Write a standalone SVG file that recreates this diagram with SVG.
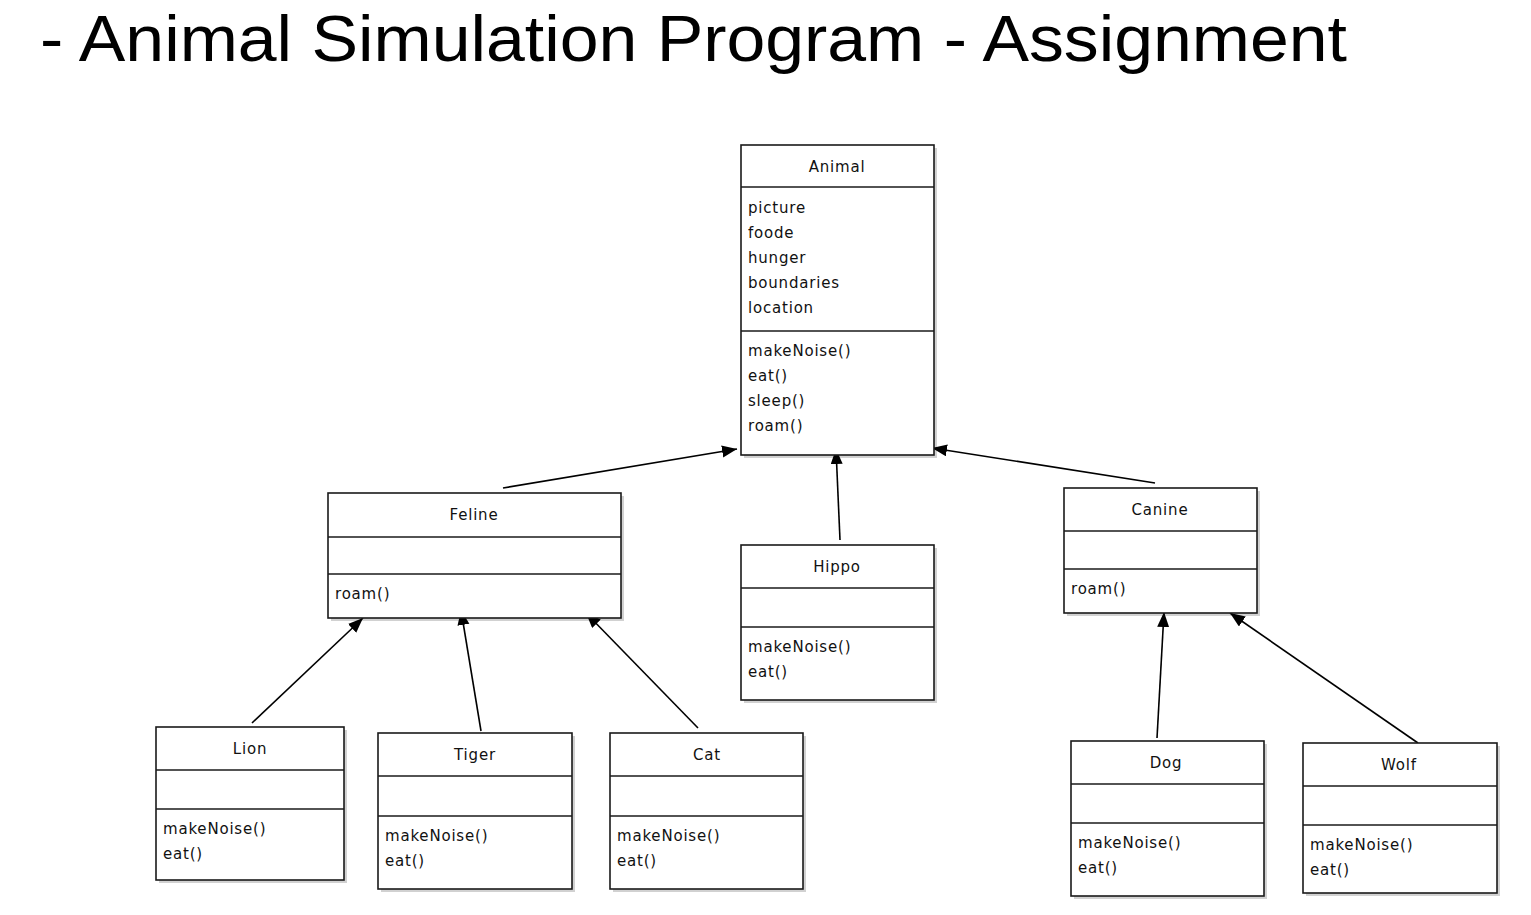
<svg xmlns="http://www.w3.org/2000/svg" width="1531" height="915" viewBox="0 0 1531 915">
<style>
.box{fill:#fff;stroke:#1a1a1a;stroke-width:1.6}
.sh{fill:#000;opacity:0.18}
.div{stroke:#1a1a1a;stroke-width:1.6}
.t{font-family:"DejaVu Sans",Verdana,sans-serif;font-size:15px;letter-spacing:0.8px;fill:#111}
.c{text-anchor:middle}
.con{stroke:#000;stroke-width:1.6;fill:none;marker-end:url(#ah)}
.title{font-family:"Liberation Sans",Arial,sans-serif;font-size:64px;fill:#000}
</style>
<defs>
<marker id="ah" markerUnits="userSpaceOnUse" markerWidth="17" markerHeight="13" refX="15" refY="6" orient="auto">
<path d="M0,0 L15,6 L0,12 z" fill="#000"/>
</marker>
</defs>
<rect width="1531" height="915" fill="#fff"/>
<text class="title" x="40" y="61" textLength="1307" lengthAdjust="spacingAndGlyphs">- Animal Simulation Program - Assignment</text>

<g id="connectors">
<line class="con" x1="503" y1="488" x2="737" y2="449"/>
<line class="con" x1="840" y1="540" x2="836" y2="449"/>
<line class="con" x1="1155" y1="483" x2="932" y2="448"/>
<line class="con" x1="252" y1="723" x2="363" y2="618"/>
<line class="con" x1="481" y1="731" x2="461" y2="610"/>
<line class="con" x1="698" y1="728" x2="586" y2="613"/>
<line class="con" x1="1157" y1="738" x2="1164" y2="612"/>
<line class="con" x1="1418" y1="743" x2="1230" y2="613"/>
</g>

<g id="animal">
<rect class="sh" x="744" y="148" width="193" height="310"/>
<rect class="box" x="741" y="145" width="193" height="310"/>
<line class="div" x1="741" y1="187" x2="934" y2="187"/>
<line class="div" x1="741" y1="331" x2="934" y2="331"/>
<text class="t c" x="837" y="172">Animal</text>
<text class="t" x="748" y="213">picture</text>
<text class="t" x="748" y="238">foode</text>
<text class="t" x="748" y="263">hunger</text>
<text class="t" x="748" y="288">boundaries</text>
<text class="t" x="748" y="313">location</text>
<text class="t" x="748" y="356">makeNoise()</text>
<text class="t" x="748" y="381">eat()</text>
<text class="t" x="748" y="406">sleep()</text>
<text class="t" x="748" y="431">roam()</text>
</g>

<g id="feline">
<rect class="sh" x="331" y="496" width="293" height="125"/>
<rect class="box" x="328" y="493" width="293" height="125"/>
<line class="div" x1="328" y1="537" x2="621" y2="537"/>
<line class="div" x1="328" y1="574" x2="621" y2="574"/>
<text class="t c" x="474" y="520">Feline</text>
<text class="t" x="335" y="599">roam()</text>
</g>

<g id="hippo">
<rect class="sh" x="744" y="548" width="193" height="155"/>
<rect class="box" x="741" y="545" width="193" height="155"/>
<line class="div" x1="741" y1="588" x2="934" y2="588"/>
<line class="div" x1="741" y1="627" x2="934" y2="627"/>
<text class="t c" x="837" y="572">Hippo</text>
<text class="t" x="748" y="652">makeNoise()</text>
<text class="t" x="748" y="677">eat()</text>
</g>

<g id="canine">
<rect class="sh" x="1067" y="491" width="193" height="125"/>
<rect class="box" x="1064" y="488" width="193" height="125"/>
<line class="div" x1="1064" y1="531" x2="1257" y2="531"/>
<line class="div" x1="1064" y1="569" x2="1257" y2="569"/>
<text class="t c" x="1160" y="515">Canine</text>
<text class="t" x="1071" y="594">roam()</text>
</g>

<g id="lion">
<rect class="sh" x="159" y="730" width="188" height="153"/>
<rect class="box" x="156" y="727" width="188" height="153"/>
<line class="div" x1="156" y1="770" x2="344" y2="770"/>
<line class="div" x1="156" y1="809" x2="344" y2="809"/>
<text class="t c" x="250" y="754">Lion</text>
<text class="t" x="163" y="834">makeNoise()</text>
<text class="t" x="163" y="859">eat()</text>
</g>

<g id="tiger">
<rect class="sh" x="381" y="736" width="194" height="156"/>
<rect class="box" x="378" y="733" width="194" height="156"/>
<line class="div" x1="378" y1="776" x2="572" y2="776"/>
<line class="div" x1="378" y1="816" x2="572" y2="816"/>
<text class="t c" x="475" y="760">Tiger</text>
<text class="t" x="385" y="841">makeNoise()</text>
<text class="t" x="385" y="866">eat()</text>
</g>

<g id="cat">
<rect class="sh" x="613" y="736" width="193" height="156"/>
<rect class="box" x="610" y="733" width="193" height="156"/>
<line class="div" x1="610" y1="776" x2="803" y2="776"/>
<line class="div" x1="610" y1="816" x2="803" y2="816"/>
<text class="t c" x="707" y="760">Cat</text>
<text class="t" x="617" y="841">makeNoise()</text>
<text class="t" x="617" y="866">eat()</text>
</g>

<g id="dog">
<rect class="sh" x="1074" y="744" width="193" height="155"/>
<rect class="box" x="1071" y="741" width="193" height="155"/>
<line class="div" x1="1071" y1="784" x2="1264" y2="784"/>
<line class="div" x1="1071" y1="823" x2="1264" y2="823"/>
<text class="t c" x="1166" y="768">Dog</text>
<text class="t" x="1078" y="848">makeNoise()</text>
<text class="t" x="1078" y="873">eat()</text>
</g>

<g id="wolf">
<rect class="sh" x="1306" y="746" width="194" height="150"/>
<rect class="box" x="1303" y="743" width="194" height="150"/>
<line class="div" x1="1303" y1="786" x2="1497" y2="786"/>
<line class="div" x1="1303" y1="825" x2="1497" y2="825"/>
<text class="t c" x="1399" y="770">Wolf</text>
<text class="t" x="1310" y="850">makeNoise()</text>
<text class="t" x="1310" y="875">eat()</text>
</g>
</svg>
